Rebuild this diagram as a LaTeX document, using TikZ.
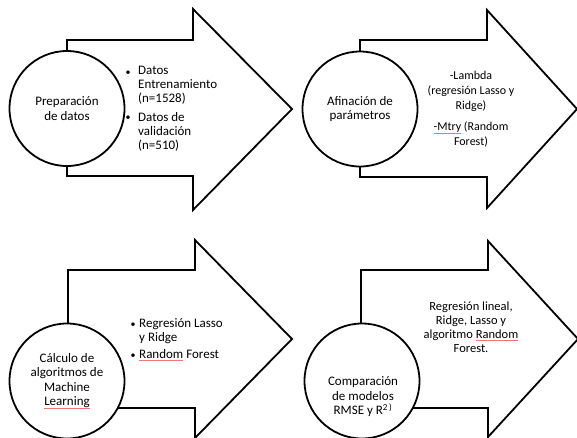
\documentclass[tikz,border=0pt]{standalone}
\usepackage{fontspec}
\setmainfont{Carlito}
\definecolor{spellred}{RGB}{236,120,120}
\newcommand\spellul[1]{\setbox0\hbox{#1}\rlap{\color{spellred}\rule[-2.6pt]{\wd0}{0.5pt}}\box0\relax}
\tikzset{
  bigarrow/.style={draw=black, fill=white, line width=1.8pt, line join=miter},
  stepcircle/.style={circle, draw=black, fill=white, line width=1.8pt, minimum size=115pt, inner sep=0pt, align=center, font=\fontsize{13}{14.5}\selectfont},
  ctext/.style={inner sep=0pt, align=center, font=\fontsize{13}{14.5}\selectfont},
  ltext/.style={inner sep=0pt, align=left, anchor=west, font=\fontsize{13}{14}\selectfont},
  bul/.style={inner sep=0pt, font=\fontsize{10}{10}\selectfont}
}
\begin{document}
\begin{tikzpicture}[x=1pt, y=-1pt]
\useasboundingbox (0,0) rectangle (577,437);
% arrows
\draw[bigarrow] (67,40) -- (193,40) -- (193,9) -- (292,109) -- (193,210) -- (193,176) -- (67,176) -- cycle;
\draw[bigarrow] (360,40) -- (487,40) -- (487,10) -- (577,109) -- (487,208) -- (487,177) -- (360,177) -- cycle;
\draw[bigarrow] (68,270) -- (195,270) -- (195,240) -- (292,339) -- (195,438) -- (195,408) -- (68,408) -- cycle;
\draw[bigarrow] (361,270) -- (488,270) -- (488,241) -- (578,339) -- (488,437) -- (488,408) -- (361,408) -- cycle;
% circles
\node[stepcircle] (c1) at (67,108.5) {Preparación\\de datos};
\node[stepcircle] (c2) at (360,109) {Afinación de\\parámetros};
\node[stepcircle] (c3) at (67,381) {Cálculo de\\algoritmos de\\Machine\\\spellul{Learning}};
\node[stepcircle] (c4) at (362,381) {};
\node[ctext] (c4t) at (363,397) {Comparación\\de modelos\\RMSE y R\textsuperscript{2\,)}};
% top-left list
\node[bul] (b1) at (128,73) {•};
\node[ltext] (l1) at (138,85.5) {Datos\\Entrenamiento\\(n=1528)};
\node[bul] (b2) at (128,118) {•};
\node[ltext] (l2) at (138,131.5) {Datos de\\validación\\(n=510)};
% top-right text
\node[ctext, font=\fontsize{12}{15}\selectfont] (r1) at (471,91) {-Lambda\\(regresión Lasso y\\Ridge)};
\node[ctext, font=\fontsize{12}{15}\selectfont] (r2) at (471,134.5) {\spellul{-Mtry} (Random\\Forest)};
% bottom-left list
\node[bul] (b3) at (133,325) {•};
\node[ltext] (l3) at (139,331) {Regresión Lasso\\y Ridge};
\node[bul] (b4) at (133,356) {•};
\node[ltext] (l4) at (139,355) {\spellul{Random} Forest};
% bottom-right text
\node[ctext, font=\fontsize{12.5}{14}\selectfont] (r3) at (471,327) {Regresión lineal,\\Ridge, Lasso y\\algoritmo \spellul{Random}\\Forest.};
\end{tikzpicture}
\end{document}
